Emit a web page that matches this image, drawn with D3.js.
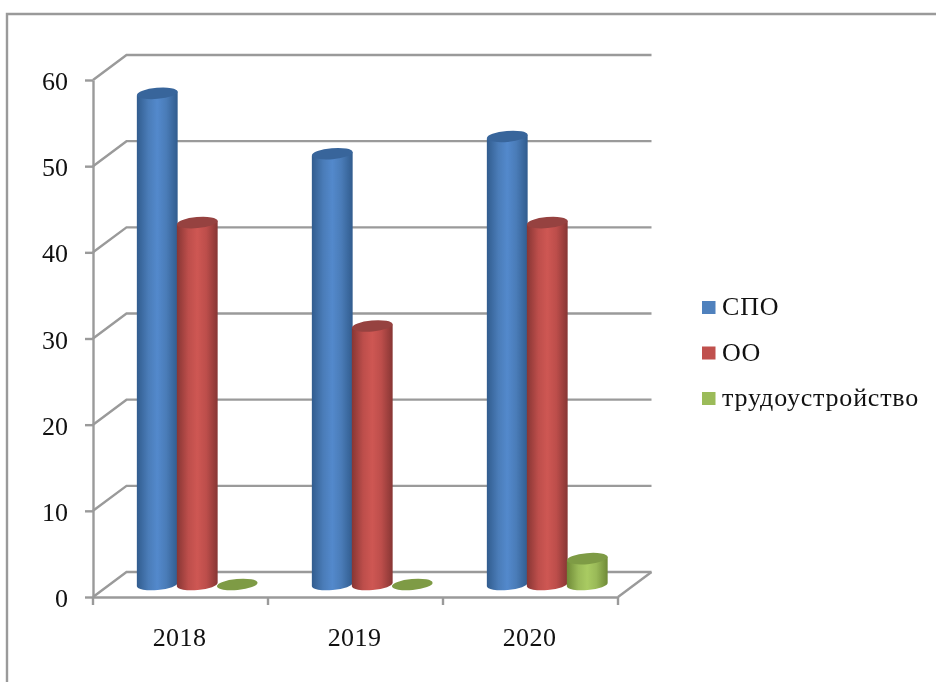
<!DOCTYPE html>
<html>
<head>
<meta charset="utf-8">
<script src="https://cdn.jsdelivr.net/npm/d3@7"></script>
<style>
  html, body { margin: 0; padding: 0; background: #fff; }
  svg { display: block; filter: blur(0.6px); }
  text { font-family: "Liberation Serif", serif; fill: #111; }
  .axis path, .axis line, .grid line, .frame { stroke: #9a9a9a; stroke-width: 2.4; fill: none; }
</style>
</head>
<body>
<div id="chart"></div>
<script>
// data
var years = ["2018", "2019", "2020"];
var seriesNames = ["СПО", "ОО", "трудоустройство"];
var spo = [57, 50, 52];
var oo = [42, 30, 42];
var employment = [0, 0, 3];
var yTicks = [0, 10, 20, 30, 40, 50, 60];

var seriesValues = [spo, oo, employment];

// colours per series: edge, middle, lit part, top cap
var palette = [
    { edge: "#315c8e", mid: "#4a7cb8", light: "#5389cc", cap: "#38659b", key: "#4f81bd" },
    { edge: "#873634", mid: "#bd4e4b", light: "#ce5753", cap: "#964240", key: "#c0504d" },
    { edge: "#6f8a37", mid: "#9aba58", light: "#a9cb62", cap: "#7e9b45", key: "#9bbb59" }
];

var width = 936, height = 682;

// plot box: front axes plus the depth shift of the back wall
var plot = { left: 93, right: 618, top: 80, bottom: 597 };
var depth = { x: 33.5, y: -25 };

var svg = d3.select("#chart").append("svg")
    .attr("width", width)
    .attr("height", height);

// outer frame, only top and left are visible
svg.append("path")
    .attr("class", "frame")
    .attr("d", d3.line()([[7, height], [7, 14], [width, 14]]));

// Scales
var y = d3.scaleLinear().domain([0, 60]).range([plot.bottom, plot.top]);
var x0 = d3.scaleBand().domain(years).range([plot.left, plot.right]);
var x1 = d3.scaleBand().domain(seriesNames).range([0, x0.bandwidth()]).paddingOuter(0.6875);

// Gradients for the cylinder bodies
var defs = svg.append("defs");
palette.forEach(function(c, i) {
    var grad = defs.append("linearGradient").attr("id", "cyl" + i);
    [[0, c.edge], [0.28, c.mid], [0.5, c.light], [0.72, c.mid], [1, c.edge]].forEach(function(s) {
        grad.append("stop").attr("offset", s[0]).attr("stop-color", s[1]);
    });
});

// Back wall grid lines with the diagonal going to the front axis
var grid = svg.append("g").attr("class", "grid");
yTicks.forEach(function(t) {
    grid.append("path")
        .attr("fill", "none")
        .attr("stroke", "#9a9a9a")
        .attr("stroke-width", 2.4)
        .attr("d", d3.line()([
            [plot.left, y(t)],
            [plot.left + depth.x, y(t) + depth.y],
            [plot.right + depth.x, y(t) + depth.y]
        ]));
});
// right edge of the floor
grid.append("line")
    .attr("x1", plot.right).attr("y1", y(0))
    .attr("x2", plot.right + depth.x).attr("y2", y(0) + depth.y);

// Axes
var yAxis = d3.axisLeft(y).tickValues(yTicks).tickSize(8).tickSizeOuter(0).tickPadding(17);
svg.append("g")
    .attr("class", "axis y-axis")
    .attr("transform", "translate(" + plot.left + ",0)")
    .call(yAxis)
    .selectAll("text")
    .attr("dy", "0.37em")
    .style("font-size", "26px")
    .style("font-family", "'Liberation Serif', serif");

var xAxis = d3.axisBottom(x0).tickSize(0).tickPadding(31);
var xG = svg.append("g")
    .attr("class", "axis x-axis")
    .attr("transform", "translate(0," + plot.bottom + ")")
    .call(xAxis);
xG.selectAll("text")
    .attr("dx", -1)
    .style("letter-spacing", "0.4px")
    .style("font-size", "26px")
    .style("font-family", "'Liberation Serif', serif");

// ticks sit between the categories, so they are added by hand
xG.selectAll(".edge")
    .data(years.map(function(d) { return x0(d); }).concat(plot.right))
    .enter().append("line")
    .attr("class", "edge")
    .attr("x1", function(d) { return d; })
    .attr("x2", function(d) { return d; })
    .attr("y1", 0)
    .attr("y2", 8);

// Cylinders
var tilt = -5;
var capRy = 5.5;
var rad = Math.PI / 180;

function cylinderPath(cx, rx, yTop, yBase) {
    var dy = rx * Math.sin(-tilt * rad);
    return "M" + (cx - rx) + "," + (yTop + dy) +
        "L" + (cx - rx) + "," + (yBase + dy) +
        "A" + rx + "," + capRy + " " + tilt + " 0 0 " + (cx + rx) + "," + (yBase - dy) +
        "L" + (cx + rx) + "," + (yTop - dy) + "Z";
}

var groups = svg.selectAll(".year")
    .data(years)
    .enter().append("g")
    .attr("class", "year");

groups.each(function(year, yi) {
    var g = d3.select(this);
    seriesNames.forEach(function(name, si) {
        var value = seriesValues[si][yi];
        var rx = x1.bandwidth() / 2 + 0.4;
        var cx = x0(year) + x1(name) + x1.bandwidth() / 2 + depth.x / 2;
        var yTop = y(value) + depth.y / 2;
        var yBase = y(0) + depth.y / 2;

        if (value > 0) {
            g.append("path")
                .attr("class", "body")
                .attr("fill", "url(#cyl" + si + ")")
                .attr("d", cylinderPath(cx, rx, yTop, yBase));
        }
        g.append("ellipse")
            .attr("class", "cap")
            .attr("cx", cx)
            .attr("cy", yTop)
            .attr("rx", rx)
            .attr("ry", capRy)
            .attr("fill", palette[si].cap)
            .attr("transform", "rotate(" + tilt + " " + cx + " " + yTop + ")");
    });
});

// Legend
var legendY = d3.scalePoint().domain(seriesNames).range([307, 398]);

var legend = svg.selectAll(".legend")
    .data(seriesNames)
    .enter().append("g")
    .attr("class", "legend")
    .attr("transform", function(d) { return "translate(702," + legendY(d) + ")"; });

legend.append("rect")
    .attr("y", -6)
    .attr("width", 13.5)
    .attr("height", 13)
    .attr("fill", function(d, i) { return palette[i].key; });

legend.append("text")
    .attr("x", 20)
    .attr("y", 8)
    .style("font-size", "26px")
    .style("letter-spacing", "0.8px")
    .text(function(d) { return d; });
</script>
</body>
</html>
